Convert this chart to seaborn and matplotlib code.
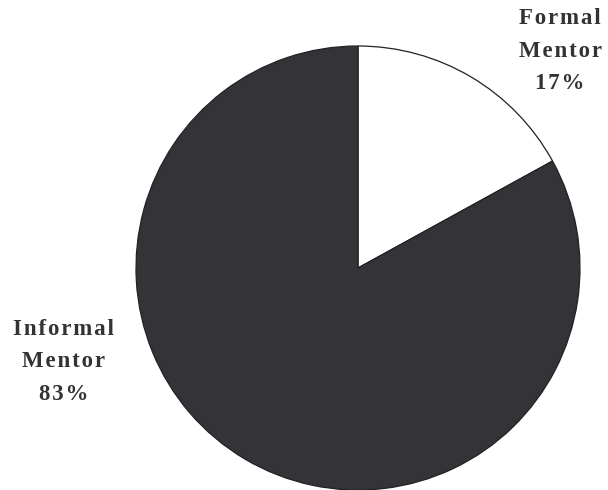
import matplotlib
matplotlib.use("Agg")
import matplotlib.pyplot as plt
import seaborn as sns

categories = ["Formal Mentor", "Informal Mentor"]
values = [17, 83]
colors = ["#ffffff", "#333338"]

sns.set_theme(style="white")
plt.rcParams['font.family'] = ['Liberation Serif', 'DejaVu Serif']

fig = plt.figure(figsize=(6.08, 4.90), dpi=100)
ax = fig.add_axes([0, 0, 1, 1])
ax.pie(values, colors=colors, startangle=90, counterclock=False,
       radius=1.0, center=(0, 0),
       wedgeprops=dict(edgecolor="#222222", linewidth=0.9))
ax.set_aspect("equal")
R = 222.0
ax.set_xlim(-358 / R, (608 - 358) / R)
ax.set_ylim(-222 / R, 268 / R)
ax.axis("off")

def spaced(s):
    return "\u200a".join(s)

label_pos = [(0.91, 0.977), (-1.326, -0.423)]
for cat, v, (x, y) in zip(categories, values, label_pos):
    lines = cat.split(" ") + [f"{v}%"]
    txt = "\n".join(spaced(l) for l in lines)
    ax.text(x, y, txt, ha="center", va="center", fontsize=16.5, fontweight="bold",
            color="#333333", linespacing=1.72)

fig.savefig("out.png", dpi=100)
